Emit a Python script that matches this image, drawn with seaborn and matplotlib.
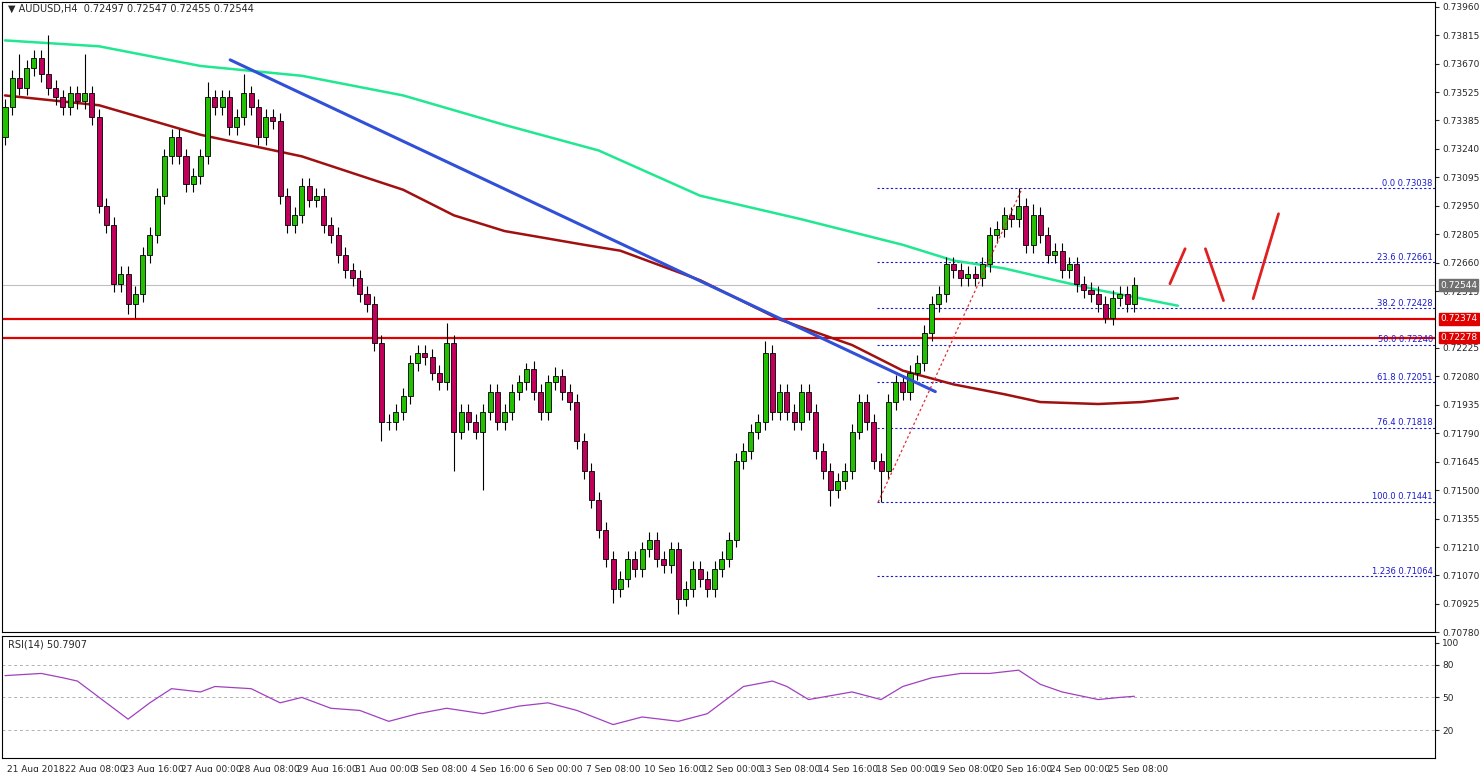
import matplotlib
matplotlib.use("Agg")
import matplotlib.pyplot as plt
import numpy as np
import pandas as pd
import seaborn as sns

# H4 closes, one per bar (open = previous close)
closes = [
    0.7345, 0.7360, 0.7355, 0.7365, 0.7370, 0.7362, 0.7355, 0.7350, 0.7345, 0.7352,
    0.7348, 0.7352, 0.7340, 0.7295, 0.7285, 0.7255, 0.7260, 0.7245, 0.7250, 0.7270,
    0.7280, 0.7300, 0.7320, 0.7330, 0.7320, 0.7306, 0.7310, 0.7320, 0.7350, 0.7345,
    0.7350, 0.7335, 0.7340, 0.7352, 0.7345, 0.7330, 0.7340, 0.7338, 0.7300, 0.7285,
    0.7290, 0.7305, 0.7298, 0.7300, 0.7285, 0.7280, 0.7270, 0.7262, 0.7258, 0.7250,
    0.7245, 0.7225, 0.7185, 0.7185, 0.7190, 0.7198, 0.7215, 0.7220, 0.7218, 0.7210,
    0.7205, 0.7225, 0.7180, 0.7190, 0.7185, 0.7180, 0.7190, 0.7200, 0.7185, 0.7190,
    0.7200, 0.7205, 0.7212, 0.7200, 0.7190, 0.7205, 0.7208, 0.7200, 0.7195, 0.7175,
    0.7160, 0.7145, 0.7130, 0.7115, 0.7100, 0.7105, 0.7115, 0.7110, 0.7120, 0.7125,
    0.7115, 0.7112, 0.7120, 0.7095, 0.7100, 0.7110, 0.7105, 0.7100, 0.7110, 0.7115,
    0.7125, 0.7165, 0.7170, 0.7180, 0.7185, 0.7220, 0.7190, 0.7200, 0.7190, 0.7185,
    0.7200, 0.7190, 0.7170, 0.7160, 0.7150, 0.7155, 0.7160, 0.7180, 0.7195, 0.7185,
    0.7165, 0.7160, 0.7195, 0.7205, 0.7200, 0.7210, 0.7215, 0.7230, 0.7245, 0.7250,
    0.7265, 0.7262, 0.7258, 0.7260, 0.7258, 0.7265, 0.7280, 0.7283, 0.7290, 0.7288,
    0.7295, 0.7275, 0.7290, 0.7280, 0.7270, 0.7272, 0.7262, 0.7265, 0.7255, 0.7252,
    0.7250, 0.7245, 0.7238, 0.7248, 0.7250, 0.7245, 0.72544,
]
first_open = 0.7330
# notable wick extremes (bar index -> price)
wick_highs = {2: 0.7372, 6: 0.7382, 11: 0.7372, 28: 0.7358, 33: 0.7362, 61: 0.7235,
              72: 0.7215, 76: 0.7213, 105: 0.7226, 140: 0.73038, 142: 0.7296}
wick_lows = {17: 0.7240, 18: 0.7238, 52: 0.7175, 62: 0.7160, 66: 0.7150, 93: 0.7087,
             84: 0.7093, 114: 0.7142, 121: 0.71441, 152: 0.7235}
default_wick = 0.0004

green_ma_bar = [0, 13, 27, 41, 55, 69, 82, 96, 110, 124, 131, 138, 145, 151, 162]
green_ma = [0.7379, 0.7376, 0.7366, 0.7361, 0.7351, 0.7336, 0.7323, 0.7300, 0.7288,
            0.7275, 0.7267, 0.7263, 0.7257, 0.7252, 0.7244]
red_ma_bar = [0, 13, 27, 41, 55, 62, 69, 80, 85, 96, 107, 117, 124, 131, 138, 143, 151, 157, 162]
red_ma = [0.7351, 0.7346, 0.7331, 0.7320, 0.7303, 0.7290, 0.7282, 0.7275, 0.7272, 0.7257,
          0.7237, 0.7224, 0.7211, 0.7204, 0.7199, 0.7195, 0.7194, 0.7195, 0.7197]

rsi_bar = [0, 5, 8, 10, 13, 16, 17, 20, 23, 27, 29, 34, 38, 41, 45, 49, 53, 57, 61, 66,
           71, 75, 79, 84, 88, 93, 97, 102, 106, 108, 111, 117, 121, 124, 128, 132, 136,
           140, 143, 146, 151, 154, 156]
rsi = [70, 72, 68, 65, 50, 35, 30, 45, 58, 55, 60, 58, 45, 50, 40, 38, 28, 35, 40, 35,
       42, 45, 38, 25, 32, 28, 35, 60, 65, 60, 48, 55, 48, 60, 68, 72, 72, 75, 62, 55,
       48, 50, 51]

fib_levels = [0.73038, 0.72661, 0.72428, 0.72240, 0.72051, 0.71818, 0.71441, 0.71064]
fib_names = ["0.0", "23.6", "38.2", "50.0", "61.8", "76.4", "100.0", "1.236"]
support_levels = [0.72374, 0.72278]
price_ticks = [0.73960, 0.73815, 0.73670, 0.73525, 0.73385, 0.73240, 0.73095, 0.72950,
               0.72805, 0.72660, 0.72515, 0.72225, 0.72080, 0.71935, 0.71790, 0.71645,
               0.71500, 0.71355, 0.71210, 0.71070, 0.70925, 0.70780]
date_labels = ["21 Aug 2018", "22 Aug 08:00", "23 Aug 16:00", "27 Aug 00:00", "28 Aug 08:00",
               "29 Aug 16:00", "31 Aug 00:00", "3 Sep 08:00", "4 Sep 16:00", "6 Sep 00:00",
               "7 Sep 08:00", "10 Sep 16:00", "12 Sep 00:00", "13 Sep 08:00", "14 Sep 16:00",
               "18 Sep 00:00", "19 Sep 08:00", "20 Sep 16:00", "24 Sep 00:00", "25 Sep 08:00"]

sns.set_style("white")
plt.rcParams["font.family"] = ["DejaVu Sans"]

W, H = 1480, 772
fig = plt.figure(figsize=(W / 100, H / 100), dpi=100)
ax = fig.add_axes([2 / W, 1 - 632 / H, 1433 / W, 630 / H])
ar = fig.add_axes([2 / W, 1 - 758 / H, 1433 / W, 122 / H])

px = 7.24
xlim = (-3 / px, 1430 / px)
slope = 5.088e-5
p_top = 0.7396 + 5 * slope
p_bot = 0.7078
ax.set_xlim(*xlim)
ax.set_ylim(p_bot, p_top)

df = pd.DataFrame({"close": closes})
df["open"] = df["close"].shift(1).fillna(first_open)
df["high"] = [max(o, c) + default_wick for o, c in zip(df["open"], df["close"])]
df["low"] = [min(o, c) - default_wick for o, c in zip(df["open"], df["close"])]
for i, v in wick_highs.items():
    df.loc[i, "high"] = v
for i, v in wick_lows.items():
    df.loc[i, "low"] = v
df["bar"] = np.arange(len(df))

# horizontal levels
ax.axhline(0.72544, color="#c0c0c0", lw=0.8)
for lv in support_levels:
    ax.axhline(lv, color="#e00000", lw=1.6)
for lv, nm in zip(fib_levels, fib_names):
    ax.hlines(lv, 120.5, xlim[1], colors="#1a1acc", lw=0.8, linestyles=(0, (2, 2)))
    ax.text(xlim[1] - 0.3, lv + 0.00003, f"{nm} {lv:.5f}", color="#1a1acc",
            fontsize=6, ha="right", va="bottom")

# moving averages
sns.lineplot(x=green_ma_bar, y=green_ma, ax=ax, color="#20e890", lw=1.8)
sns.lineplot(x=red_ma_bar, y=red_ma, ax=ax, color="#a01010", lw=1.8)

# candles
bull = df["close"] >= df["open"]
ax.vlines(df["bar"], df["low"], df["high"], color="black", lw=0.8, zorder=3)
ax.bar(df["bar"][bull], (df["close"] - df["open"])[bull], bottom=df["open"][bull],
       width=0.7, color="#22c000", edgecolor="black", lw=0.6, zorder=4)
ax.bar(df["bar"][~bull], (df["open"] - df["close"])[~bull], bottom=df["close"][~bull],
       width=0.7, color="#c0005a", edgecolor="black", lw=0.6, zorder=4)

# trend lines and drawings
ax.plot([31.1, 128.5], [0.73691, 0.72003], color="#3050d8", lw=2.2, zorder=5)
ax.plot([120.6, 140.5], [0.71441, 0.73038], color="#e03030", lw=0.9, ls=(0, (2, 2)), zorder=5)
for xa, ya, xb, yb in [(160.9, 0.72552, 163.0, 0.72730),
                       (165.8, 0.72730, 168.3, 0.72466),
                       (172.4, 0.72476, 175.9, 0.72908)]:
    ax.plot([xa, xb], [ya, yb], color="#e02020", lw=2)

ax.text(0.004, 0.997, "▼ AUDUSD,H4  0.72497 0.72547 0.72455 0.72544", transform=ax.transAxes,
        fontsize=7, va="top")

# right price scale
ax.yaxis.tick_right()
ax.set_yticks(price_ticks)
ax.set_yticklabels([f"{t:.5f}" for t in price_ticks], fontsize=6.5)
ax.tick_params(axis="y", length=3, pad=2)
ax.set_xticks([])
for lv, col in [(0.72544, "#707070"), (0.72374, "#e00000"), (0.72278, "#e00000")]:
    ax.text(xlim[1] + 0.7, lv, f"{lv:.5f}", color="white", fontsize=6.5, va="center",
            bbox=dict(boxstyle="square,pad=0.15", fc=col, ec=col), clip_on=False, zorder=10)

# RSI panel
ar.set_xlim(*xlim)
ar.set_ylim(-5.7, 106.4)
for lv in (80, 50, 20):
    ar.axhline(lv, color="#b0b0b0", lw=0.7, ls=(0, (3, 3)))
sns.lineplot(x=rsi_bar, y=rsi, ax=ar, color="#a040c0", lw=0.9)
ar.yaxis.tick_right()
ar.set_yticks([100, 80, 50, 20])
ar.set_yticklabels(["100", "80", "50", "20"], fontsize=6.5)
ar.tick_params(axis="y", length=3, pad=2)
ar.text(0.004, 0.97, "RSI(14) 50.7907", transform=ar.transAxes, fontsize=7, va="top")
ar.set_xticks([0.3 + 8 * k for k in range(len(date_labels))])
ar.set_xticklabels(date_labels, fontsize=6.5, ha="left")
ar.tick_params(axis="x", length=3, pad=2)
ar.set_xlabel("")
ar.set_ylabel("")
ax.set_xlabel("")
ax.set_ylabel("")

for a in (ax, ar):
    for s in a.spines.values():
        s.set_color("black")
        s.set_linewidth(0.8)

fig.savefig("out.png", dpi=100)
